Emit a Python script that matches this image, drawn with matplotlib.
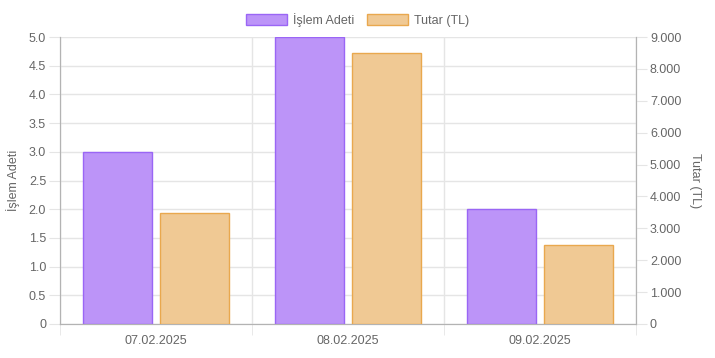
import matplotlib

matplotlib.use("Agg")
import matplotlib.pyplot as plt
import numpy as np
from matplotlib.patches import Patch
from matplotlib.ticker import FuncFormatter, MultipleLocator

dates = ["07.02.2025", "08.02.2025", "09.02.2025"]
islem_adeti = [3, 5, 2]
tutar_tl = [3480, 8500, 2480]

purple_fill, purple_edge = "#bc94f8", "#9a66f5"
orange_fill, orange_edge = "#f0c994", "#e9a84e"
tick_col = "#666666"
grid_col = "#e5e5e5"
axis_col = "#b3b3b3"

plt.rcParams["font.family"] = ["Liberation Sans", "DejaVu Sans"]

fig = plt.figure(figsize=(7.15, 3.58), dpi=100)
ax = fig.add_axes([60 / 715, 34 / 358, 576 / 715, 287 / 358])
ax2 = ax.twinx()

x = np.arange(len(dates))
w = 0.36
ax.bar(x - 0.2, islem_adeti, w, color=purple_fill, edgecolor=purple_edge, linewidth=1, zorder=3)
ax2.bar(x + 0.2, tutar_tl, w, color=orange_fill, edgecolor=orange_edge, linewidth=1, zorder=3)

ax.set_xlim(-0.5, len(dates) - 0.5)
ax.set_ylim(0, 5)
ax2.set_ylim(0, 9000)

ax.yaxis.set_major_locator(MultipleLocator(0.5))
ax.yaxis.set_major_formatter(FuncFormatter(lambda v, _: "0" if v == 0 else f"{v:.1f}"))
ax2.yaxis.set_major_locator(MultipleLocator(1000))
ax2.yaxis.set_major_formatter(FuncFormatter(lambda v, _: f"{int(v):,}".replace(",", ".")))

ax.set_xticks(x)
ax.set_xticklabels(dates)
ax.set_xticks(np.arange(len(dates) + 1) - 0.5, minor=True)

ax.grid(axis="y", color=grid_col, linewidth=1, zorder=0)
ax.grid(axis="x", which="minor", color=grid_col, linewidth=1, zorder=0)
ax.set_axisbelow(True)

ax.tick_params(axis="y", length=8, color=grid_col, labelcolor=tick_col, labelsize=9, pad=2)
ax2.tick_params(axis="y", length=8, color=grid_col, labelcolor=tick_col, labelsize=9, pad=2)
ax.tick_params(axis="x", which="major", length=0, labelcolor=tick_col, labelsize=9, pad=8)
ax.tick_params(axis="x", which="minor", length=8, color=grid_col)

for a in (ax, ax2):
    a.spines["top"].set_visible(False)
    for s in ("left", "right", "bottom"):
        a.spines[s].set_color(axis_col)

ax.set_ylabel("İşlem Adeti", color=tick_col, fontsize=9, labelpad=6)
ax2.set_ylabel("Tutar (TL)", color=tick_col, fontsize=9, rotation=-90, labelpad=14)

handles = [
    Patch(facecolor=purple_fill, edgecolor=purple_edge, label="İşlem Adeti"),
    Patch(facecolor=orange_fill, edgecolor=orange_edge, label="Tutar (TL)"),
]
fig.legend(handles=handles, loc="center", bbox_to_anchor=(0.5, 1 - 20 / 358),
           ncol=2, frameon=False, fontsize=9, labelcolor=tick_col,
           handlelength=3.3, handleheight=1.0, columnspacing=1.0, handletextpad=0.5)

fig.savefig("out.png", dpi=100)
